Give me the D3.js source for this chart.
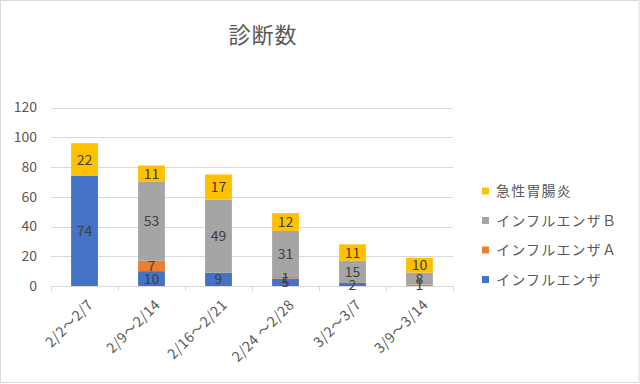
<!DOCTYPE html>
<html><head><meta charset="utf-8">
<script src="https://cdn.jsdelivr.net/npm/d3@7"></script>
<style>
html,body{margin:0;padding:0;background:#fff;}
svg{display:block;font-family:"Noto Sans CJK JP","Noto Sans",sans-serif;}
</style></head>
<body><svg id="c" width="640" height="384"></svg>
<script>
const categories = ["2/2～2/7","2/9～2/14","2/16～2/21","2/24 ～2/28","3/2～3/7","3/9～3/14"];
const seriesNames = ["インフルエンザ","インフルエンザＡ","インフルエンザＢ","急性胃腸炎"];
const flu  = [74,10,9,5,2,0];
const fluA = [0,7,0,1,0,1];
const fluB = [0,53,49,31,15,8];
const gastro = [22,11,17,12,11,10];
const yTicks = [0,20,40,60,80,100,120];
const colors = ["#4472C4","#ED7D31","#A5A5A5","#FFC000"];

const seriesValues = [flu, fluA, fluB, gastro];
const svg = d3.select("#c");

svg.append("rect").attr("x",0.5).attr("y",0.5).attr("width",638.5).attr("height",382)
  .attr("fill","#fff").attr("stroke","#D9D9D9").attr("stroke-width",1);

svg.append("text").attr("x",263).attr("y",43).attr("text-anchor","middle")
  .attr("font-size",22).attr("letter-spacing","1").attr("fill","#595959").text("診断数");

const x = d3.scaleBand().domain(categories).range([51,453]).paddingInner(0.6).paddingOuter(0.3);
const y = d3.scaleLinear().domain([0,120]).range([286,107.5]);

// gridlines
svg.append("g").selectAll("line").data(yTicks.slice(1)).join("line")
  .attr("x1",51).attr("x2",453).attr("y1",d=>Math.round(y(d))+0.5).attr("y2",d=>Math.round(y(d))+0.5)
  .attr("stroke","#D9D9D9").attr("stroke-width",1);

// y axis labels
const yAxis = d3.axisLeft(y).tickValues(yTicks).tickSize(0).tickPadding(0);
const gy = svg.append("g").attr("transform","translate(37,0)").call(yAxis);
gy.select(".domain").remove();
gy.selectAll("text").attr("font-size",14).attr("fill","#595959")
  .attr("font-family","'Noto Sans CJK JP','Noto Sans',sans-serif");

// stack
const data = categories.map((c,i)=>{ const o={cat:c}; seriesNames.forEach((s,k)=>o[s]=seriesValues[k][i]); return o;});
const stack = d3.stack().keys(seriesNames)(data);

const gBars = svg.append("g");
stack.forEach((layer,k)=>{
  gBars.append("g").attr("fill",colors[k]).selectAll("rect").data(layer).join("rect")
    .attr("x",d=>x(d.data.cat)).attr("width",x.bandwidth())
    .attr("y",d=>y(d[1])).attr("height",d=>y(d[0])-y(d[1]));
});

// x axis line and ticks
const xb = d3.scaleLinear().domain([0,6]).range([51,453]);
svg.append("line").attr("x1",51).attr("x2",453).attr("y1",286.5).attr("y2",286.5).attr("stroke","#D9D9D9");
svg.append("g").selectAll("line").data(d3.range(7)).join("line")
  .attr("x1",d=>Math.round(xb(d))+0.5).attr("x2",d=>Math.round(xb(d))+0.5)
  .attr("y1",286).attr("y2",291).attr("stroke","#D9D9D9");

// data labels
stack.forEach((layer,k)=>{
  svg.append("g").selectAll("text").data(layer.filter(d=>d[1]-d[0]>0)).join("text")
    .attr("x",d=>x(d.data.cat)+x.bandwidth()/2)
    .attr("y",d=>(y(d[0])+y(d[1]))/2)
    .attr("dy","0.36em").attr("text-anchor","middle")
    .attr("font-size",14).attr("fill","#404040")
    .text(d=>d[1]-d[0]);
});

// x labels
svg.append("g").selectAll("text").data(categories).join("text")
  .attr("transform",d=>`translate(${x(d)+x.bandwidth()/2+6},${302}) rotate(-45)`)
  .attr("text-anchor","end").attr("dy","0.36em")
  .attr("font-size",14).attr("letter-spacing","0.6").attr("fill","#595959").text(d=>d);

// legend
const legendOrder = [3,2,1,0];
const lg = svg.append("g");
legendOrder.forEach((k,i)=>{
  const yy = 191 + i*29.5;
  lg.append("rect").attr("x",482).attr("y",yy-3.5).attr("width",7).attr("height",7).attr("fill",colors[k]);
  lg.append("text").attr("x",496).attr("y",yy).attr("dy","0.36em")
    .attr("font-size",14).attr("fill","#595959").attr("letter-spacing","1.2").text(seriesNames[k]);
});
</script></body></html>
